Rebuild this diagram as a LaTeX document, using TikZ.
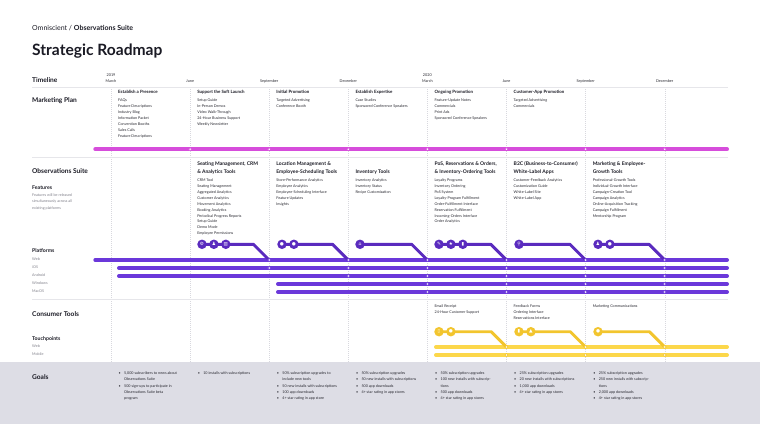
\documentclass[tikz,border=0pt]{standalone}
\usepackage{fontspec}
\setmainfont{Lato}
\newfontfamily\symfont{DejaVu Sans}
\usetikzlibrary{positioning}

\definecolor{ink}{HTML}{1A1A24}
\definecolor{txt}{HTML}{26262E}
\definecolor{mute}{HTML}{7E7E88}
\definecolor{rule}{HTML}{E6E6EA}
\definecolor{gridc}{HTML}{D8D8DE}
\definecolor{mkt}{HTML}{D64DDB}
\definecolor{suite}{HTML}{6B38DA}
\definecolor{suitedark}{HTML}{5A2BBE}
\definecolor{cons}{HTML}{FCD74A}
\definecolor{consdark}{HTML}{F2C52E}
\definecolor{band}{HTML}{DDDDE5}

\tikzset{
  brand/.style={anchor=base west, inner sep=0, font=\fontsize{7}{8}\selectfont, text=ink},
  bigtitle/.style={anchor=base west, inner sep=0, font=\bfseries\fontsize{15.6}{18}\selectfont, text=ink},
  seclabel/.style={anchor=base west, inner sep=0, font=\bfseries\fontsize{6.6}{8}\selectfont, text=ink},
  sublabel/.style={anchor=base west, inner sep=0, font=\bfseries\fontsize{5.2}{6}\selectfont, text=ink},
  month/.style={anchor=base, inner sep=0, font=\fontsize{3.8}{4.5}\selectfont, text=txt},
  colhead/.style={anchor=base west, inner sep=0, font=\bfseries\fontsize{4.4}{5}\selectfont, text=ink},
  fhead/.style={colhead, font=\bfseries\fontsize{5}{6}\selectfont},
  entry/.style={anchor=base west, inner sep=0, font=\fontsize{3.7}{4.5}\selectfont, text=txt},
  note/.style={entry, text=mute},
  gridline/.style={gridc, dash pattern=on 1pt off 1pt, line width=0.4pt},
  rowrule/.style={rule, line width=0.5pt},
  mktline/.style={mkt, line width=4pt, line cap=round},
  platline/.style={suite, line width=4pt, line cap=round},
  consline/.style={cons, line width=4pt, line cap=round},
  branch/.style={line width=2.9pt, line join=round},
  station/.style={circle, fill=white, draw=#1, line width=0.5pt, inner sep=0, minimum size=3pt},
  hub/.style={circle, fill=#1, inner sep=0, minimum size=9.5pt, text=white, font=\symfont\fontsize{4.6}{4.6}\selectfont},
}

\begin{document}
\begin{tikzpicture}[x=1pt,y=-1pt]
\useasboundingbox (0,0) rectangle (760,424);
\fill[band] (0,362) rectangle (760,424);

% header
\node[brand] (brand) at (32,30.7) {Omniscient / \textbf{Observations Suite}};
\node[bigtitle] (title) at (32,55) {Strategic Roadmap};

% grid and rules
\foreach \i in {0,...,7} {
  \coordinate (g\i) at (111+79.1*\i,87);
  \coordinate (h\i) at (111+79.1*\i,362);
  \draw[gridline] (g\i) -- (h\i);
}
\foreach \y [count=\i] in {87,157,299} {
  \coordinate (ra\i) at (32,\y);
  \coordinate (rb\i) at (728,\y);
  \draw[rowrule] (ra\i) -- (rb\i);
}

% timeline
\node[seclabel] (timeline) at (32,82.3) {Timeline};
\foreach \m [count=\i from 0] in {March,June,September,December,March,June,September,December}
  \node[month] (mo\i) at (111+79.1*\i,82) {\m};
\node[month] (y2019) at (111,76.3) {2019};
\node[month] (y2020) at (427.4,76.3) {2020};

% marketing plan
\node[seclabel] (marketing) at (32,102) {Marketing Plan};
\node[colhead] (mh1) at (118,93.9) {Establish a Presence};
\foreach \t [count=\i] in {FAQs,Feature Descriptions,Industry Blog,Information Packet,Convention Booths,Sales Calls,Feature Descriptions}
  \node[entry] (mp1-\i) at (118,95.3+6*\i) {\t};
\node[colhead] (mh2) at (197.1,93.9) {Support the Soft Launch};
\foreach \t [count=\i] in {Setup Guide,In-Person Demos,Video Walk-Through,24-Hour Business Support,Weekly Newsletter}
  \node[entry] (mp2-\i) at (197.1,95.3+6*\i) {\t};
\node[colhead] (mh3) at (276.2,93.9) {Initial Promotion};
\foreach \t [count=\i] in {Targeted Advertising,Conference Booth}
  \node[entry] (mp3-\i) at (276.2,95.3+6*\i) {\t};
\node[colhead] (mh4) at (355.3,93.9) {Establish Expertise};
\foreach \t [count=\i] in {Case Studies,Sponsored Conference Speakers}
  \node[entry] (mp4-\i) at (355.3,95.3+6*\i) {\t};
\node[colhead] (mh5) at (434.4,93.9) {Ongoing Promotion};
\foreach \t [count=\i] in {Feature-Update Notes,Commercials,Print Ads,Sponsored Conference Speakers}
  \node[entry] (mp5-\i) at (434.4,95.3+6*\i) {\t};
\node[colhead] (mh6) at (513.5,93.9) {Customer-App Promotion};
\foreach \t [count=\i] in {Targeted Advertising,Commercials}
  \node[entry] (mp6-\i) at (513.5,95.3+6*\i) {\t};

\coordinate (mkt-s) at (95.3,149.2);
\coordinate (mkt-e) at (727,149.2);
\draw[mktline] (mkt-s) -- (mkt-e);
\foreach \i in {1,...,7}
  \node[station=mkt] (mkt\i) at (g\i |- mkt-s) {};

% observations suite
\node[seclabel] (suite) at (32,173.5) {Observations Suite};
\node[sublabel] (features) at (32,189.3) {Features};
\foreach \t [count=\i from 0] in {Features will be released,simultaneously across all,existing platforms}
  \node[note] (fnote\i) at (32,196.3+6.5*\i) {\t};

\node[fhead] (fh2a) at (197.1,165.8) {Seating Management, CRM};
\node[fhead] (fh2b) at (197.1,173.5) {\& Analytics Tools};
\foreach \t [count=\i] in {CRM Tool,Seating Management,Aggregated Analytics,Customer Analytics,Movement Analytics,Booking Analytics,Periodical Progress Reports,Setup Guide,Demo Mode,Employee Permissions}
  \node[entry] (f2-\i) at (197.1,175.35+5.95*\i) {\t};
\node[fhead] (fh3a) at (276.2,165.8) {Location Management \&};
\node[fhead] (fh3b) at (276.2,173.5) {Employee-Scheduling Tools};
\foreach \t [count=\i] in {Store-Performance Analytics,Employee Analytics,Employee-Scheduling Interface,Feature Updates,Insights}
  \node[entry] (f3-\i) at (276.2,175.35+5.95*\i) {\t};
\node[fhead] (fh4b) at (355.3,173.5) {Inventory Tools};
\foreach \t [count=\i] in {Inventory Analytics,Inventory Status,Recipe Customization}
  \node[entry] (f4-\i) at (355.3,175.35+5.95*\i) {\t};
\node[fhead] (fh5a) at (434.4,165.8) {PoS, Reservations \& Orders,};
\node[fhead] (fh5b) at (434.4,173.5) {\& Inventory-Ordering Tools};
\foreach \t [count=\i] in {Loyalty Programs,Inventory Ordering,PoS System,Loyalty-Program Fulfillment,Order-Fulfillment Interface,Reservation Fulfillment,Incoming-Orders Interface,Order Analytics}
  \node[entry] (f5-\i) at (434.4,175.35+5.95*\i) {\t};
\node[fhead] (fh6a) at (513.5,165.8) {B2C (Business-to-Consumer)};
\node[fhead] (fh6b) at (513.5,173.5) {White-Label Apps};
\foreach \t [count=\i] in {Customer-Feedback Analytics,Customization Guide,White-Label Site,White-Label App}
  \node[entry] (f6-\i) at (513.5,175.35+5.95*\i) {\t};
\node[fhead] (fh7a) at (592.6,165.8) {Marketing \& Employee-};
\node[fhead] (fh7b) at (592.6,173.5) {Growth Tools};
\foreach \t [count=\i] in {Professional-Growth Tools,Individual-Growth Interface,Campaign-Creation Tool,Campaign Analytics,Online-Acquisition Tracking,Campaign Fulfillment,Mentorship Program}
  \node[entry] (f7-\i) at (592.6,175.35+5.95*\i) {\t};

% platforms
\node[sublabel] (platforms) at (32,252.3) {Platforms};
\foreach \n/\t/\x/\y in {web/Web/95.3/260,ios/iOS/119/268,android/Android/119/276,windows/Windows/278/284,macos/MacOS/278/292} {
  \node[note] (l-\n) at (32,\y+0.3) {\t};
  \coordinate (\n-s) at (\x,\y);
  \coordinate (\n-e) at (727,\y);
  \draw[platline] (\n-s) -- (\n-e);
}

% feature branches
\foreach \c/\x in {2/202,3/282,4/360,5/439,6/519,7/598} {
  \coordinate (c\c) at (\x,244.3);
  \coordinate (k\c) at (111+79.1*\c-15.7,244.3);
  \draw[branch, suitedark] (c\c) -- (k\c) -- (g\c |- web-s);
}
\node[hub=suitedark] (c2a) at (c2) {⚙};
\node[hub=suitedark, right=2pt of c2a] (c2b) {♟};
\node[hub=suitedark, right=2pt of c2b] (c2c) {▥};
\node[hub=suitedark] (c3a) at (c3) {●};
\node[hub=suitedark, right=2pt of c3a] (c3b) {●};
\node[hub=suitedark] (c4a) at (c4) {⌂};
\node[hub=suitedark] (c5a) at (c5) {✎};
\node[hub=suitedark, right=2pt of c5a] (c5b) {★};
\node[hub=suitedark, right=2pt of c5b] (c5c) {▮};
\node[hub=suitedark] (c6a) at (c6) {⚲};
\node[hub=suitedark] (c7a) at (c7) {♟};
\node[hub=suitedark, right=2pt of c7a] (c7b) {●};

\foreach \n/\f in {web/2,ios/2,android/3,windows/4,macos/4}
  \foreach \i in {\f,...,7}
    \node[station=suite] (\n\i) at (g\i |- \n-s) {};

% consumer tools
\node[seclabel] (consumer) at (32,316) {Consumer Tools};
\node[sublabel] (touch) at (32,340) {Touchpoints};
\node[note] (l-tweb) at (32,347.3) {Web};
\node[note] (l-tmob) at (32,355.3) {Mobile};
\foreach \t [count=\i] in {Email Receipt,24-Hour Customer Support}
  \node[entry] (t5-\i) at (434.4,301.1+6.2*\i) {\t};
\foreach \t [count=\i] in {Feedback Forms,Ordering Interface,Reservations Interface}
  \node[entry] (t6-\i) at (513.5,301.1+6.2*\i) {\t};
\node[entry] (t7-1) at (592.6,307.3) {Marketing Communications};

\foreach \n/\y in {tweb/347,tmob/355} {
  \coordinate (\n-s) at (436,\y);
  \coordinate (\n-e) at (727,\y);
  \draw[consline] (\n-s) -- (\n-e);
}
\foreach \c/\x in {5/439,6/519,7/598} {
  \coordinate (d\c) at (\x,331.7);
  \coordinate (q\c) at (111+79.1*\c-15.3,331.7);
  \draw[branch, consdark] (d\c) -- (q\c) -- (g\c |- tweb-s);
}
\node[hub=consdark] (d5a) at (d5) {▯};
\node[hub=consdark, right=2pt of d5a] (d5b) {●};
\node[hub=consdark] (d6a) at (d6) {▮};
\node[hub=consdark, right=2pt of d6a] (d6b) {▲};
\node[hub=consdark] (d7a) at (d7) {●};
\foreach \n in {tweb,tmob}
  \foreach \i in {5,6,7}
    \node[station=consdark] (\n\i) at (g\i |- \n-s) {};

% goals
\node[seclabel] (goals) at (32,379.3) {Goals};
\foreach \b/\t [count=\i from 0] in {{•/5,000 subscribers to news about},/Observations Suite,{•/500 sign-ups to participate in},/Observations Suite beta,/program}
  {\node[entry] (gb1-\i) at (118.5,374.6+6.2*\i) {\b}; \node[entry] (g1-\i) at (124,374.6+6.2*\i) {\t};}
\foreach \b/\t [count=\i from 0] in {•/10 installs with subscriptions}
  {\node[entry] (gb2-\i) at (197.6,374.6+6.2*\i) {\b}; \node[entry] (g2-\i) at (203.1,374.6+6.2*\i) {\t};}
\foreach \b/\t [count=\i from 0] in {•/50\% subscription upgrades to,/include new tools,•/50 new installs with subscriptions,•/100 app downloads,•/4+ star rating in app store}
  {\node[entry] (gb3-\i) at (276.7,374.6+6.2*\i) {\b}; \node[entry] (g3-\i) at (282.2,374.6+6.2*\i) {\t};}
\foreach \b/\t [count=\i from 0] in {•/50\% subscription upgrades,•/50 new installs with subscriptions,•/500 app downloads,•/4+ star rating in app stores}
  {\node[entry] (gb4-\i) at (355.8,374.6+6.2*\i) {\b}; \node[entry] (g4-\i) at (361.3,374.6+6.2*\i) {\t};}
\foreach \b/\t [count=\i from 0] in {•/50\% subscription upgrades,•/100 new installs with subscrip-,/tions,•/500 app downloads,•/4+ star rating in app stores}
  {\node[entry] (gb5-\i) at (434.9,374.6+6.2*\i) {\b}; \node[entry] (g5-\i) at (440.4,374.6+6.2*\i) {\t};}
\foreach \b/\t [count=\i from 0] in {•/25\% subscription upgrades,•/20 new installs with subscriptions,{•/1,000 app downloads},•/4+ star rating in app stores}
  {\node[entry] (gb6-\i) at (514,374.6+6.2*\i) {\b}; \node[entry] (g6-\i) at (519.5,374.6+6.2*\i) {\t};}
\foreach \b/\t [count=\i from 0] in {•/25\% subscription upgrades,•/250 new installs with subscrip-,/tions,{•/2,000 app downloads},•/4+ star rating in app stores}
  {\node[entry] (gb7-\i) at (593.1,374.6+6.2*\i) {\b}; \node[entry] (g7-\i) at (598.6,374.6+6.2*\i) {\t};}
\end{tikzpicture}
\end{document}
